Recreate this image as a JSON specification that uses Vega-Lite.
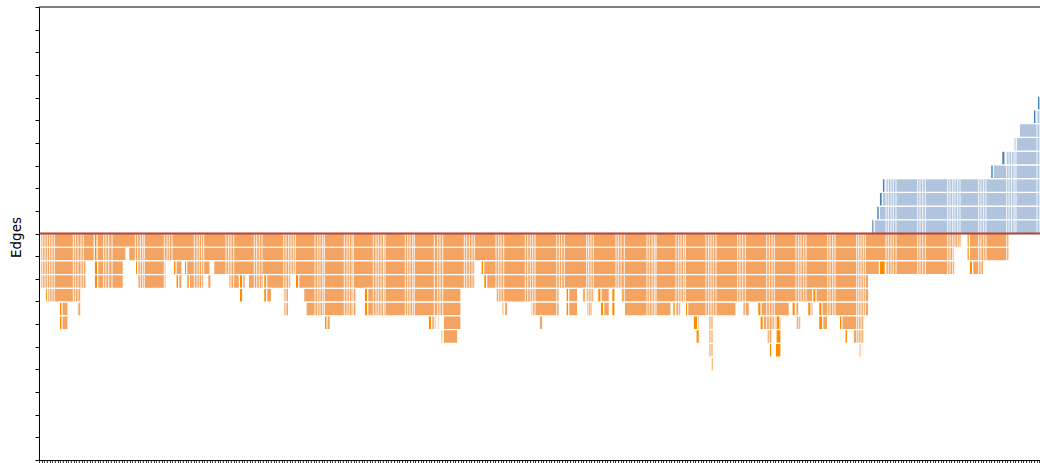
{
  "$schema": "https://vega.github.io/schema/vega-lite/v6.json",
  "width": 1001,
  "height": 453,
  "autosize": {"type": "none"},
  "padding": {"left": 39, "top": 7, "right": 0, "bottom": 3},
  "background": "white",
  "config": {"view": {"stroke": null}, "axis": {"grid": false}},
  "datasets": {
    "cells": [
      {"a": 0, "b": 922.7, "y": -1, "y2": 0, "t": "o"},
      {"a": 928, "b": 970.3, "y": -1, "y2": 0, "t": "o"},
      {"a": 0, "b": 87, "y": -2, "y2": -1, "t": "o"},
      {"a": 89.7, "b": 915.3, "y": -2, "y2": -1, "t": "o"},
      {"a": 928, "b": 970.3, "y": -2, "y2": -1, "t": "o"},
      {"a": 0, "b": 47, "y": -3, "y2": -2, "t": "o"},
      {"a": 55.3, "b": 84.3, "y": -3, "y2": -2, "t": "o"},
      {"a": 96.3, "b": 127, "y": -3, "y2": -2, "t": "o"},
      {"a": 134.3, "b": 143, "y": -3, "y2": -2, "t": "o"},
      {"a": 145.3, "b": 171, "y": -3, "y2": -2, "t": "o"},
      {"a": 174.7, "b": 436.3, "y": -3, "y2": -2, "t": "o"},
      {"a": 442, "b": 916, "y": -3, "y2": -2, "t": "o"},
      {"a": 930.3, "b": 944.7, "y": -3, "y2": -2, "t": "o"},
      {"a": 0, "b": 47, "y": -4, "y2": -3, "t": "o"},
      {"a": 55.3, "b": 84.3, "y": -4, "y2": -3, "t": "o"},
      {"a": 98.7, "b": 127, "y": -4, "y2": -3, "t": "o"},
      {"a": 137, "b": 143, "y": -4, "y2": -3, "t": "o"},
      {"a": 147.7, "b": 165.3, "y": -4, "y2": -3, "t": "o"},
      {"a": 168.7, "b": 172, "y": -4, "y2": -3, "t": "o"},
      {"a": 189.7, "b": 206.3, "y": -4, "y2": -3, "t": "o"},
      {"a": 209.3, "b": 252, "y": -4, "y2": -3, "t": "o"},
      {"a": 256.3, "b": 436.3, "y": -4, "y2": -3, "t": "o"},
      {"a": 444.7, "b": 829.7, "y": -4, "y2": -3, "t": "o"},
      {"a": 6.3, "b": 42, "y": -5, "y2": -4, "t": "o"},
      {"a": 200.3, "b": 203.7, "y": -5, "y2": -4, "t": "o"},
      {"a": 224.7, "b": 232.7, "y": -5, "y2": -4, "t": "o"},
      {"a": 244.7, "b": 249.7, "y": -5, "y2": -4, "t": "o"},
      {"a": 264.7, "b": 317, "y": -5, "y2": -4, "t": "o"},
      {"a": 325.3, "b": 422, "y": -5, "y2": -4, "t": "o"},
      {"a": 457, "b": 520.3, "y": -5, "y2": -4, "t": "o"},
      {"a": 527, "b": 538.7, "y": -5, "y2": -4, "t": "o"},
      {"a": 543.7, "b": 555.3, "y": -5, "y2": -4, "t": "o"},
      {"a": 558.7, "b": 570.3, "y": -5, "y2": -4, "t": "o"},
      {"a": 572.7, "b": 576, "y": -5, "y2": -4, "t": "o"},
      {"a": 582, "b": 829.7, "y": -5, "y2": -4, "t": "o"},
      {"a": 20.3, "b": 29, "y": -6, "y2": -5, "t": "o"},
      {"a": 38, "b": 42, "y": -6, "y2": -5, "t": "o"},
      {"a": 244.7, "b": 249.7, "y": -6, "y2": -5, "t": "o"},
      {"a": 267, "b": 317, "y": -6, "y2": -5, "t": "o"},
      {"a": 325.3, "b": 422, "y": -6, "y2": -5, "t": "o"},
      {"a": 463, "b": 468.7, "y": -6, "y2": -5, "t": "o"},
      {"a": 492, "b": 520.3, "y": -6, "y2": -5, "t": "o"},
      {"a": 527, "b": 538.7, "y": -6, "y2": -5, "t": "o"},
      {"a": 547.7, "b": 553.7, "y": -6, "y2": -5, "t": "o"},
      {"a": 561.3, "b": 570.3, "y": -6, "y2": -5, "t": "o"},
      {"a": 572.7, "b": 576, "y": -6, "y2": -5, "t": "o"},
      {"a": 585.3, "b": 632, "y": -6, "y2": -5, "t": "o"},
      {"a": 633.7, "b": 642, "y": -6, "y2": -5, "t": "o"},
      {"a": 646.3, "b": 697, "y": -6, "y2": -5, "t": "o"},
      {"a": 703.7, "b": 710.3, "y": -6, "y2": -5, "t": "o"},
      {"a": 718.7, "b": 750.3, "y": -6, "y2": -5, "t": "o"},
      {"a": 753, "b": 760.3, "y": -6, "y2": -5, "t": "o"},
      {"a": 768.7, "b": 774, "y": -6, "y2": -5, "t": "o"},
      {"a": 779.7, "b": 829.7, "y": -6, "y2": -5, "t": "o"},
      {"a": 20.3, "b": 29, "y": -7, "y2": -6, "t": "o"},
      {"a": 285.3, "b": 291.3, "y": -7, "y2": -6, "t": "o"},
      {"a": 389.3, "b": 397, "y": -7, "y2": -6, "t": "o"},
      {"a": 398.7, "b": 400.3, "y": -7, "y2": -6, "t": "o"},
      {"a": 404.3, "b": 422, "y": -7, "y2": -6, "t": "o"},
      {"a": 500.3, "b": 503.7, "y": -7, "y2": -6, "t": "o"},
      {"a": 654.3, "b": 660.3, "y": -7, "y2": -6, "t": "o"},
      {"a": 669.7, "b": 674.3, "y": -7, "y2": -6, "t": "o"},
      {"a": 721, "b": 742.7, "y": -7, "y2": -6, "t": "o"},
      {"a": 757, "b": 762, "y": -7, "y2": -6, "t": "o"},
      {"a": 779.7, "b": 788.7, "y": -7, "y2": -6, "t": "o"},
      {"a": 800.3, "b": 825.3, "y": -7, "y2": -6, "t": "o"},
      {"a": 402, "b": 418.7, "y": -8, "y2": -7, "t": "o"},
      {"a": 657, "b": 660.3, "y": -8, "y2": -7, "t": "o"},
      {"a": 669.7, "b": 674.3, "y": -8, "y2": -7, "t": "o"},
      {"a": 728, "b": 733, "y": -8, "y2": -7, "t": "o"},
      {"a": 737, "b": 742, "y": -8, "y2": -7, "t": "o"},
      {"a": 806, "b": 808.7, "y": -8, "y2": -7, "t": "o"},
      {"a": 814.3, "b": 825.3, "y": -8, "y2": -7, "t": "o"},
      {"a": 669.7, "b": 674.3, "y": -9, "y2": -8, "t": "o"},
      {"a": 730.3, "b": 733, "y": -9, "y2": -8, "t": "o"},
      {"a": 736.3, "b": 742, "y": -9, "y2": -8, "t": "o"},
      {"a": 820, "b": 822.5, "y": -9, "y2": -8, "t": "o"},
      {"a": 672, "b": 674.3, "y": -10, "y2": -9, "t": "o"},

      {"a": 835, "b": 1001, "y": 0, "y2": 1, "t": "b"},
      {"a": 840.3, "b": 1001, "y": 1, "y2": 2, "t": "b"},
      {"a": 843.3, "b": 1001, "y": 2, "y2": 3, "t": "b"},
      {"a": 846, "b": 1001, "y": 3, "y2": 4, "t": "b"},
      {"a": 954.3, "b": 1001, "y": 4, "y2": 5, "t": "b"},
      {"a": 966, "b": 1001, "y": 5, "y2": 6, "t": "b"},
      {"a": 977, "b": 1001, "y": 6, "y2": 7, "t": "b"},
      {"a": 980.3, "b": 1001, "y": 7, "y2": 8, "t": "b"},
      {"a": 997, "b": 1001, "y": 8, "y2": 9, "t": "b"},

      {"a": 0, "b": 1.7, "y": -1, "y2": 0, "t": "O"},
      {"a": 55.3, "b": 58, "y": -1, "y2": 0, "t": "O"},
      {"a": 928, "b": 930.3, "y": -1, "y2": 0, "t": "O"},
      {"a": 0, "b": 1.7, "y": -2, "y2": -1, "t": "O"},
      {"a": 55.3, "b": 58, "y": -2, "y2": -1, "t": "O"},
      {"a": 928, "b": 930.3, "y": -2, "y2": -1, "t": "O"},
      {"a": 0, "b": 1.7, "y": -3, "y2": -2, "t": "O"},
      {"a": 55.3, "b": 58.7, "y": -3, "y2": -2, "t": "O"},
      {"a": 96.3, "b": 98.7, "y": -3, "y2": -2, "t": "O"},
      {"a": 134.3, "b": 137, "y": -3, "y2": -2, "t": "O"},
      {"a": 145.3, "b": 147.7, "y": -3, "y2": -2, "t": "O"},
      {"a": 442, "b": 444.7, "y": -3, "y2": -2, "t": "O"},
      {"a": 840.3, "b": 846.3, "y": -3, "y2": -2, "t": "O"},
      {"a": 930.3, "b": 933.7, "y": -3, "y2": -2, "t": "O"},
      {"a": 0, "b": 1.7, "y": -4, "y2": -3, "t": "O"},
      {"a": 55.3, "b": 58.7, "y": -4, "y2": -3, "t": "O"},
      {"a": 137, "b": 139.7, "y": -4, "y2": -3, "t": "O"},
      {"a": 147.7, "b": 150.3, "y": -4, "y2": -3, "t": "O"},
      {"a": 200.3, "b": 203.7, "y": -4, "y2": -3, "t": "O"},
      {"a": 224.7, "b": 227.7, "y": -4, "y2": -3, "t": "O"},
      {"a": 256.3, "b": 259.7, "y": -4, "y2": -3, "t": "O"},
      {"a": 444.7, "b": 447.7, "y": -4, "y2": -3, "t": "O"},
      {"a": 6.3, "b": 8.7, "y": -5, "y2": -4, "t": "O"},
      {"a": 200.3, "b": 203.7, "y": -5, "y2": -4, "t": "O"},
      {"a": 224.7, "b": 227.7, "y": -5, "y2": -4, "t": "O"},
      {"a": 325.3, "b": 328.7, "y": -5, "y2": -4, "t": "O"},
      {"a": 527, "b": 529.7, "y": -5, "y2": -4, "t": "O"},
      {"a": 543.7, "b": 546.3, "y": -5, "y2": -4, "t": "O"},
      {"a": 558.7, "b": 562, "y": -5, "y2": -4, "t": "O"},
      {"a": 572.7, "b": 576, "y": -5, "y2": -4, "t": "O"},
      {"a": 773.7, "b": 777, "y": -5, "y2": -4, "t": "O"},
      {"a": 20.3, "b": 23, "y": -6, "y2": -5, "t": "O"},
      {"a": 325.3, "b": 328.7, "y": -6, "y2": -5, "t": "O"},
      {"a": 463, "b": 465.5, "y": -6, "y2": -5, "t": "O"},
      {"a": 527, "b": 529.7, "y": -6, "y2": -5, "t": "O"},
      {"a": 561.3, "b": 564.7, "y": -6, "y2": -5, "t": "O"},
      {"a": 572.7, "b": 576, "y": -6, "y2": -5, "t": "O"},
      {"a": 633.7, "b": 636.3, "y": -6, "y2": -5, "t": "O"},
      {"a": 646.3, "b": 648.7, "y": -6, "y2": -5, "t": "O"},
      {"a": 718.7, "b": 722, "y": -6, "y2": -5, "t": "O"},
      {"a": 753, "b": 756.3, "y": -6, "y2": -5, "t": "O"},
      {"a": 768.7, "b": 772, "y": -6, "y2": -5, "t": "O"},
      {"a": 779.7, "b": 783, "y": -6, "y2": -5, "t": "O"},
      {"a": 20.3, "b": 23, "y": -7, "y2": -6, "t": "O"},
      {"a": 285.3, "b": 288, "y": -7, "y2": -6, "t": "O"},
      {"a": 389.3, "b": 392.7, "y": -7, "y2": -6, "t": "O"},
      {"a": 654.3, "b": 658.7, "y": -7, "y2": -6, "t": "O"},
      {"a": 721, "b": 724.3, "y": -7, "y2": -6, "t": "O"},
      {"a": 737, "b": 741, "y": -7, "y2": -6, "t": "O"},
      {"a": 779.7, "b": 783.7, "y": -7, "y2": -6, "t": "O"},
      {"a": 800.3, "b": 803, "y": -7, "y2": -6, "t": "O"},
      {"a": 402, "b": 404.3, "y": -8, "y2": -7, "t": "O"},
      {"a": 657, "b": 660.3, "y": -8, "y2": -7, "t": "O"},
      {"a": 737, "b": 742, "y": -8, "y2": -7, "t": "O"},
      {"a": 806, "b": 808.7, "y": -8, "y2": -7, "t": "O"},
      {"a": 730.3, "b": 733, "y": -9, "y2": -8, "t": "O"},
      {"a": 736.3, "b": 742, "y": -9, "y2": -8, "t": "O"},
      {"a": 672, "b": 674.3, "y": -10, "y2": -9, "t": "O"},

      {"a": 832.7, "b": 835, "y": 0, "y2": 1, "t": "B"},
      {"a": 837.7, "b": 840.3, "y": 1, "y2": 2, "t": "B"},
      {"a": 840.3, "b": 843.3, "y": 2, "y2": 3, "t": "B"},
      {"a": 843.3, "b": 846, "y": 3, "y2": 4, "t": "B"},
      {"a": 951.7, "b": 954.3, "y": 4, "y2": 5, "t": "B"},
      {"a": 962.7, "b": 966, "y": 5, "y2": 6, "t": "B"},
      {"a": 975, "b": 977, "y": 6, "y2": 7, "t": "B"},
      {"a": 994.3, "b": 997, "y": 8, "y2": 9, "t": "B"},
      {"a": 998.3, "b": 1001, "y": 9, "y2": 10, "t": "B"}
    ],
    "seps": [
      {"s": 3.7}, {"s": 6}, {"s": 8.3}, {"s": 10.7}, {"s": 13}, {"s": 15.3},
      {"s": 34.3}, {"s": 36.3}, {"s": 39}, {"s": 42}, {"s": 44.3},
      {"s": 64.7}, {"s": 67}, {"s": 69.7}, {"s": 73},
      {"s": 96.3}, {"s": 98.7}, {"s": 101.3}, {"s": 103.7}, {"s": 105.3},
      {"s": 125.3}, {"s": 128}, {"s": 130.3}, {"s": 133},
      {"s": 155.3}, {"s": 158}, {"s": 160.3}, {"s": 162.7}, {"s": 164.7},
      {"s": 187}, {"s": 189.7}, {"s": 192}, {"s": 194.7},
      {"s": 215.3}, {"s": 217.7}, {"s": 220.3}, {"s": 223},
      {"s": 244.7}, {"s": 247}, {"s": 249.7}, {"s": 252}, {"s": 254.3}, {"s": 256.3},
      {"s": 276}, {"s": 278.7}, {"s": 281}, {"s": 283.7}, {"s": 285.3},
      {"s": 305.3}, {"s": 308}, {"s": 310.3}, {"s": 313}, {"s": 314.3},
      {"s": 334.3}, {"s": 337}, {"s": 339.3}, {"s": 342}, {"s": 344.5}, {"s": 346},
      {"s": 366.3}, {"s": 368.7}, {"s": 371}, {"s": 373.7}, {"s": 375.3},
      {"s": 395.3}, {"s": 398.7}, {"s": 401}, {"s": 403.7},
      {"s": 425.3}, {"s": 427.7}, {"s": 430.3}, {"s": 433}, {"s": 435.3},
      {"s": 457}, {"s": 459.7}, {"s": 462}, {"s": 464.7},
      {"s": 486.3}, {"s": 488.7}, {"s": 491.3}, {"s": 493.7}, {"s": 496},
      {"s": 517.7}, {"s": 520.3}, {"s": 522.7}, {"s": 525.3},
      {"s": 547.7}, {"s": 549.7}, {"s": 552}, {"s": 554.3},
      {"s": 577}, {"s": 579.3}, {"s": 582}, {"s": 585.3},
      {"s": 608}, {"s": 610.3}, {"s": 613}, {"s": 615.3}, {"s": 617},
      {"s": 637}, {"s": 639.7}, {"s": 642}, {"s": 644.7}, {"s": 646.3},
      {"s": 667}, {"s": 669.7}, {"s": 672}, {"s": 674.3}, {"s": 677},
      {"s": 698.7}, {"s": 701}, {"s": 703.7}, {"s": 706.3},
      {"s": 727.7}, {"s": 730.3}, {"s": 733}, {"s": 735.3},
      {"s": 757}, {"s": 759.7}, {"s": 762}, {"s": 764.7}, {"s": 767},
      {"s": 788.7}, {"s": 791}, {"s": 793.7}, {"s": 796},
      {"s": 817.7}, {"s": 819.7}, {"s": 822}, {"s": 824.3}, {"s": 826.3},
      {"s": 847}, {"s": 849.3}, {"s": 852}, {"s": 854.3}, {"s": 857},
      {"s": 878.7}, {"s": 881}, {"s": 883.7}, {"s": 886.3},
      {"s": 908.7}, {"s": 911}, {"s": 913.7}, {"s": 916}, {"s": 918.7}, {"s": 921},
      {"s": 939.7}, {"s": 942}, {"s": 944.7}, {"s": 947},
      {"s": 967.7}, {"s": 970}, {"s": 972.5}, {"s": 975}, {"s": 977},
      {"s": 998}
    ],
    "levels": [
      {"level": 0, "from": 0, "to": 1001}
    ],
    "frame": [
      {"level": 16.5, "from": 0, "to": 1001}
    ],
    "steps": [{"k": 0}, {"k": 375.2}]
  },
  "layer": [
    {
      "data": {"name": "cells"},
      "mark": {"type": "rect", "stroke": "white", "strokeWidth": 1.2, "clip": true},
      "encoding": {
        "x": {"field": "a", "type": "quantitative", "scale": {"domain": [0, 1001], "nice": false, "zero": false}, "axis": null},
        "x2": {"field": "b"},
        "y": {
          "field": "y", "type": "quantitative",
          "scale": {"domain": [-16.5, 16.5], "nice": false, "zero": false},
          "axis": {
            "values": [-16.5, -14.85, -13.2, -11.55, -9.9, -8.25, -6.6, -4.95, -3.3, -1.65, 0, 1.65, 3.3, 4.95, 6.6, 8.25, 9.9, 11.55, 13.2, 14.85, 16.5],
            "tickCount": 30,
            "labels": false, "tickSize": 4, "tickColor": "black", "tickWidth": 1,
            "domainColor": "black", "domainWidth": 1, "grid": false, "zindex": 1,
            "title": "Edges", "titleFont": "DejaVu Sans", "titleFontSize": 13.5,
            "titleFontWeight": "normal", "titleColor": "black", "titlePadding": 11,
            "titleY": 230
          }
        },
        "y2": {"field": "y2"},
        "color": {
          "field": "t", "type": "nominal",
          "scale": {"domain": ["o", "O", "b", "B"], "range": ["#f4a460", "#ff8c00", "#b0c4de", "#4682b4"]},
          "legend": null
        }
      }
    },
    {
      "data": {"name": "seps"},
      "mark": {"type": "rule", "color": "white", "strokeWidth": 0.9},
      "encoding": {
        "x": {"field": "s", "type": "quantitative", "scale": {"domain": [0, 1001], "nice": false, "zero": false}, "axis": null}
      }
    },
    {
      "data": {"name": "levels"},
      "mark": {"type": "rule", "color": "#b3413d", "strokeWidth": 1.8},
      "encoding": {
        "x": {"field": "from", "type": "quantitative", "scale": {"domain": [0, 1001], "nice": false, "zero": false}, "axis": null},
        "x2": {"field": "to"},
        "y": {"field": "level", "type": "quantitative"}
      }
    },
    {
      "data": {"name": "frame"},
      "mark": {"type": "rule", "color": "black", "strokeWidth": 1},
      "encoding": {
        "x": {"field": "from", "type": "quantitative", "scale": {"domain": [0, 1001], "nice": false, "zero": false}, "axis": null},
        "x2": {"field": "to"},
        "y": {"field": "level", "type": "quantitative"}
      }
    },
    {
      "data": {"name": "steps"},
      "mark": {"type": "point", "opacity": 0},
      "encoding": {
        "x": {
          "field": "k", "type": "quantitative",
          "scale": {"domain": [0, 375.2], "nice": false, "zero": false},
          "axis": {
            "orient": "bottom", "tickCount": 376, "labels": false, "ticks": true,
            "tickSize": 3, "tickColor": "black", "tickWidth": 0.8,
            "domainColor": "black", "domainWidth": 1, "grid": false, "title": null, "zindex": 1
          }
        }
      }
    }
  ],
  "resolve": {"scale": {"x": "independent"}}
}
